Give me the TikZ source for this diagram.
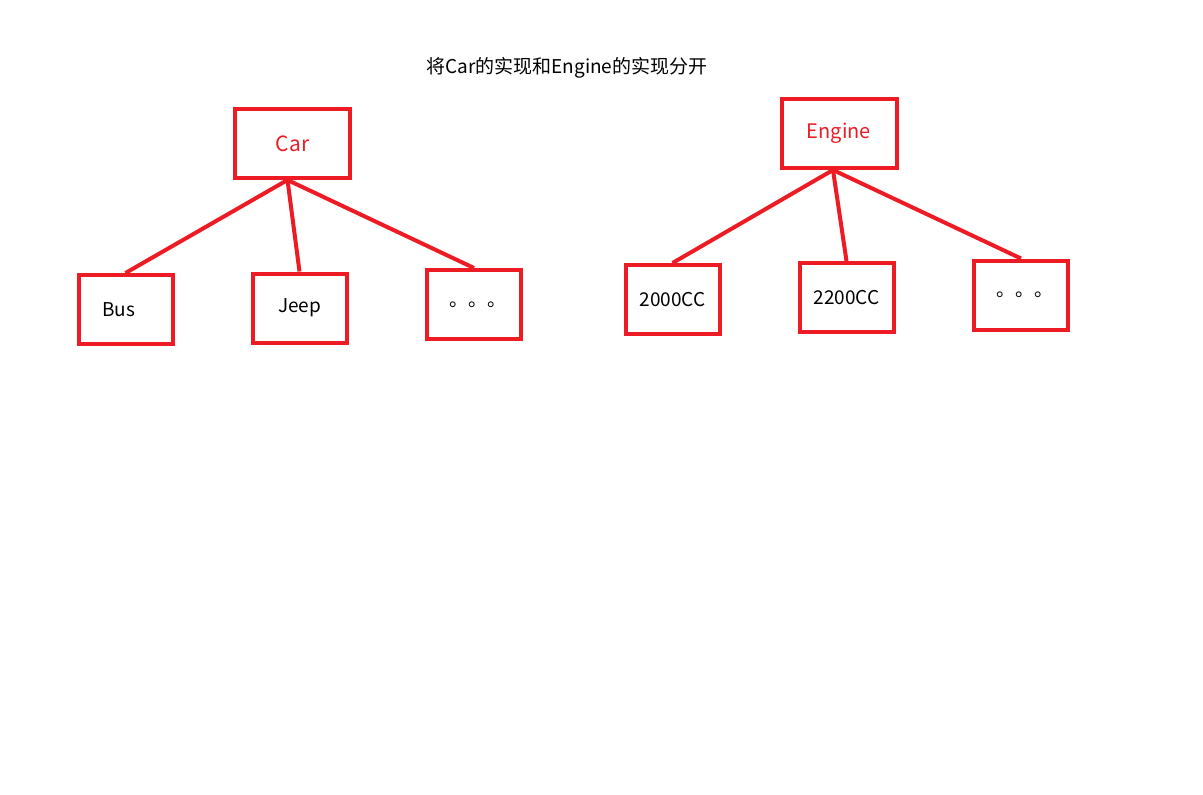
\documentclass[tikz,border=0pt]{standalone}
\usepackage{fontspec}
\setmainfont{Noto Sans CJK SC}
\usetikzlibrary{positioning}
\definecolor{paintred}{RGB}{237,28,36}

\begin{document}
\begin{tikzpicture}[x=1pt,y=-1pt,
	box/.style={draw=paintred,line width=4pt,inner sep=0pt,minimum width=94pt,minimum height=69pt,font=\fontsize{19}{19}\selectfont},
	topbox/.style={box,minimum width=115pt,text=paintred},
	link/.style={paintred,line width=4pt}]
	\useasboundingbox (0,0) rectangle (1203,795);
	\node[font=\fontsize{19}{19}\selectfont] (title) at (567,68) {将Car的实现和Engine的实现分开};
	% Car side
	\node[topbox,font=\fontsize{21}{21}\selectfont] (car) at (292.5,143.5) {Car};
	\node[box] (bus) at (125.5,309.5) {Bus\kern14pt};
	\node[box] (jeep) at (299.5,308) {Jeep};
	\node[box] (cardots) at (474,304.5) {\kern8pt。。。};
	\foreach \c in {bus,jeep,cardots}
		\draw[link] ([xshift=-5pt]car.south) -- (\c.north);
	% Engine side
	\node[topbox,font=\fontsize{20}{20}\selectfont] (engine) at (839,133.5) {Engine};
	\node[box] (cc2000) at (672.5,299.5) {2000CC};
	\node[box] (cc2200) at (846.5,297.5) {2200CC};
	\node[box] (enginedots) at (1021,295) {\kern8pt。。。};
	\foreach \c in {cc2000,cc2200,enginedots}
		\draw[link] ([xshift=-6pt]engine.south) -- (\c.north);
\end{tikzpicture}
\end{document}
